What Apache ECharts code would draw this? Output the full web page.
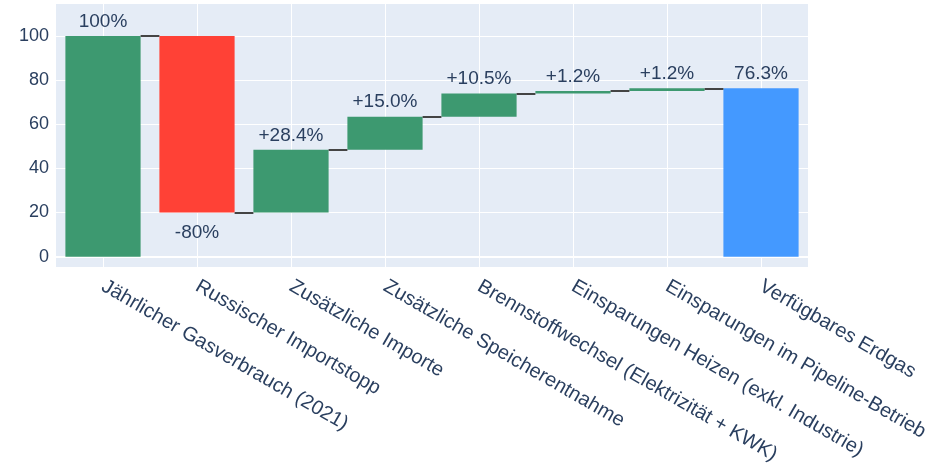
<!DOCTYPE html>
<html>
<head>
<meta charset="utf-8">
<script src="https://cdn.jsdelivr.net/npm/echarts@6/dist/echarts.min.js"></script>
<style>
html,body{margin:0;padding:0;background:#fff;}
#chart{width:933px;height:467px;}
</style>
</head>
<body>
<div id="chart"></div>
<script>
const categories = [
  'Jährlicher Gasverbrauch (2021)',
  'Russischer Importstopp',
  'Zusätzliche Importe',
  'Zusätzliche Speicherentnahme',
  'Brennstoffwechsel (Elektrizität + KWK)',
  'Einsparungen Heizen (exkl. Industrie)',
  'Einsparungen im Pipeline-Betrieb',
  'Verfügbares Erdgas'
];
const measures = ['absolute','relative','relative','relative','relative','relative','relative','total'];
const values = [100, -80, 28.4, 15.0, 10.5, 1.2, 1.2, 76.3];
const textLabels = ['100%','-80%','+28.4%','+15.0%','+10.5%','+1.2%','+1.2%','76.3%'];
const yTicks = [0, 20, 40, 60, 80, 100];

const COLORS = {inc: '#3D9970', dec: '#FF4136', tot: '#4499FF'};
const TXT = '#2a3f5f';
const FONT = "'Liberation Sans', Arial, sans-serif";

// build waterfall geometry
const baseData = [], deltaData = [], ends = [];
let cum = 0;
values.forEach((v, i) => {
  const m = measures[i];
  let base, h, color, pos;
  if (m === 'absolute') { base = 0; h = v; cum = v; color = COLORS.inc; pos = 'top'; }
  else if (m === 'total') { base = 0; h = v; cum = v; color = COLORS.tot; pos = 'top'; }
  else if (v >= 0) { base = cum; h = v; cum += v; color = COLORS.inc; pos = 'top'; }
  else { base = cum + v; h = -v; cum += v; color = COLORS.dec; pos = 'bottom'; }
  ends.push(cum);
  baseData.push(base);
  deltaData.push({
    value: h,
    itemStyle: {color: color},
    label: {show: true, position: pos, distance: pos === 'top' ? 5 : 11,
            formatter: textLabels[i], color: TXT, fontSize: 19, fontFamily: FONT}
  });
});
const half = 0.4;
const connectors = [];
for (let i = 0; i < values.length - 1; i++) {
  connectors.push({coords: [[i + half, ends[i]], [i + 1 - half, ends[i]]]});
}

const chart = echarts.init(document.getElementById('chart'), null, {renderer: 'canvas'});
chart.setOption({
  animation: false,
  backgroundColor: '#fff',
  grid: {left: 56, right: 125, top: 4, bottom: 200, show: true, backgroundColor: '#E5ECF6', borderWidth: 0},
  xAxis: [{
    type: 'category',
    data: categories,
    axisLine: {show: false},
    axisTick: {show: false},
    splitLine: {show: false},
    axisLabel: {interval: 0, rotate: -30, margin: 18, color: TXT, fontSize: 20, fontFamily: FONT}
  }, {
    type: 'value',
    min: -0.5, max: 7.5,
    position: 'bottom',
    axisLine: {show: false},
    axisTick: {show: false, customValues: [0,1,2,3,4,5,6,7]},
    axisLabel: {show: false, customValues: [0,1,2,3,4,5,6,7]},
    splitLine: {show: true, lineStyle: {color: '#ffffff', width: 1}}
  }],
  yAxis: {
    type: 'value',
    min: -4.7, max: 114.5,
    axisLine: {show: false},
    axisTick: {show: false, customValues: yTicks},
    axisLabel: {customValues: yTicks, color: TXT, fontSize: 18, fontFamily: FONT, margin: 7},
    splitLine: {show: true, lineStyle: {color: '#ffffff', width: 1}}
  },
  series: [{
    type: 'bar', stack: 'wf', xAxisIndex: 0, data: baseData,
    itemStyle: {color: 'rgba(0,0,0,0)'}, barCategoryGap: '20%', silent: true
  }, {
    type: 'bar', stack: 'wf', xAxisIndex: 0, data: deltaData, barCategoryGap: '20%'
  }, {
    type: 'lines', coordinateSystem: 'cartesian2d', xAxisIndex: 1, yAxisIndex: 0,
    polyline: false, data: connectors, z: 5,
    lineStyle: {color: '#444444', width: 2, opacity: 1}
  }, {
    type: 'lines', coordinateSystem: 'cartesian2d', xAxisIndex: 1, yAxisIndex: 0,
    polyline: false, data: [{coords: [[-0.5, 0], [7.5, 0]]}], z: 1,
    lineStyle: {color: '#ffffff', width: 2, opacity: 1}
  }]
});
</script>
</body>
</html>
